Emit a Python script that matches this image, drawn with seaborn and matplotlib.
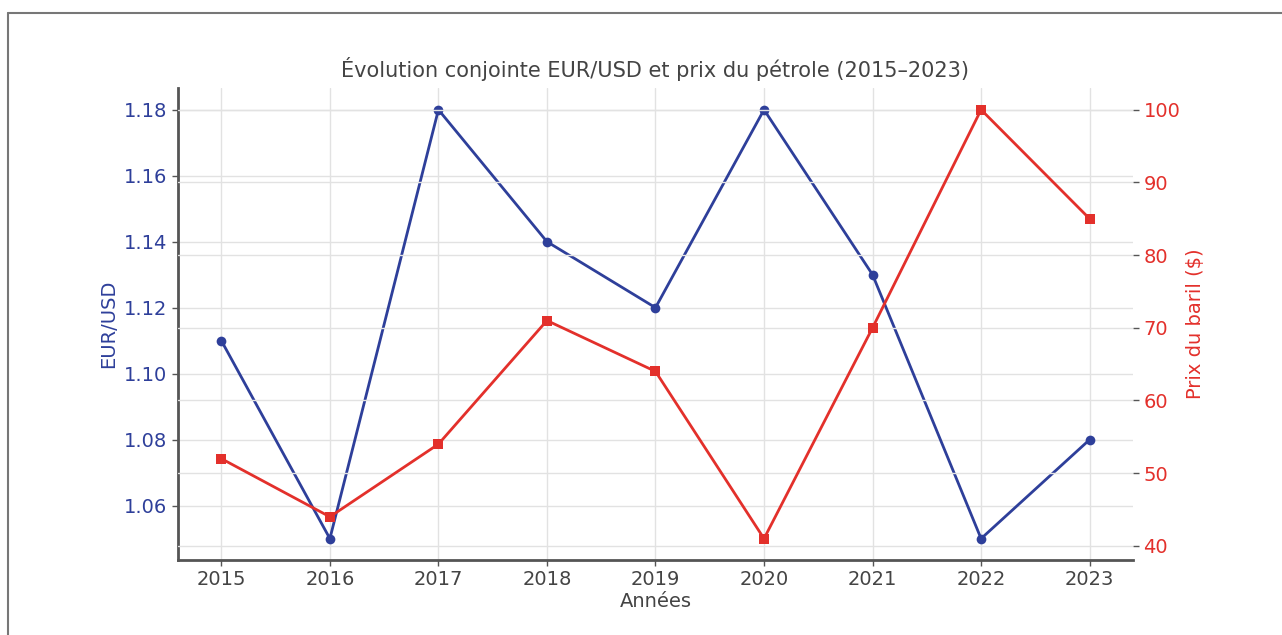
import numpy as np
import pandas as pd
import matplotlib
matplotlib.use("Agg")
import matplotlib.pyplot as plt
import seaborn as sns
from matplotlib.lines import Line2D

years = [2015, 2016, 2017, 2018, 2019, 2020, 2021, 2022, 2023]
eurusd = [1.11, 1.05, 1.18, 1.14, 1.12, 1.18, 1.13, 1.05, 1.08]
oil = [52, 44, 54, 71, 64, 41, 70, 100, 85]

df = pd.DataFrame({"year": years, "eurusd": eurusd, "oil": oil})

sns.set_theme(style="whitegrid")
plt.rcParams["font.family"] = "sans-serif"
plt.rcParams["font.sans-serif"] = ["DejaVu Sans"]

blue = "#2e3f9a"
red = "#e3302b"
grey = "#444444"

fig = plt.figure(figsize=(12.82, 6.35), dpi=100)
ax = fig.add_axes([0.1388, 0.118, 0.745, 0.743])

sns.lineplot(data=df, x="year", y="eurusd", ax=ax, color=blue, marker="o",
             markersize=7, markeredgewidth=0, linewidth=2)
ax.set_xticks(years)
ax.set_xlabel("Années", fontsize=14, color=grey, labelpad=2)
ax.set_ylabel("EUR/USD", fontsize=14, color=blue)
ax.tick_params(axis="y", left=True, labelcolor=blue, color="#555555",
               labelsize=14, length=4, width=1)
ax.tick_params(axis="x", bottom=True, labelcolor=grey, color="#555555",
               labelsize=14, length=4, width=1)
yt = [1.06, 1.08, 1.10, 1.12, 1.14, 1.16, 1.18]
ax.set_yticks(yt)
ax.set_yticklabels([f"{v:.2f}" for v in yt])
ax.grid(True, color="#e2e2e2", linewidth=1)
for s in ["top", "right"]:
    ax.spines[s].set_visible(False)
ax.spines["left"].set_color("#555555")
ax.spines["left"].set_linewidth(2)
ax.spines["bottom"].set_color("#555555")
ax.spines["bottom"].set_linewidth(2)

ax2 = ax.twinx()
sns.lineplot(data=df, x="year", y="oil", ax=ax2, color=red, marker="s",
             markersize=7, markeredgewidth=0, linewidth=2)
ax2.set_ylabel("Prix du baril ($)", fontsize=14, color=red)
ax2.tick_params(axis="y", right=True, labelcolor=red, color="#555555",
                labelsize=14, length=4, width=1)
ax2.set_yticks([40, 50, 60, 70, 80, 90, 100])
ax2.grid(True, color="#e2e2e2", linewidth=1)
for s in ["top", "right", "left", "bottom"]:
    ax2.spines[s].set_visible(False)
ax2.set_xticks(years)

ax.set_title("Évolution conjointe EUR/USD et prix du pétrole (2015–2023)",
             fontsize=15, color=grey, pad=8)

# frame around the picture
fig.add_artist(Line2D([0.0065, 1.0], [1 - 13 / 635, 1 - 13 / 635],
                      transform=fig.transFigure, color="#777777", linewidth=1.5))
fig.add_artist(Line2D([0.0065, 0.0065], [0.0, 1 - 13 / 635],
                      transform=fig.transFigure, color="#777777", linewidth=1.5))

fig.savefig("out.png", dpi=100)
